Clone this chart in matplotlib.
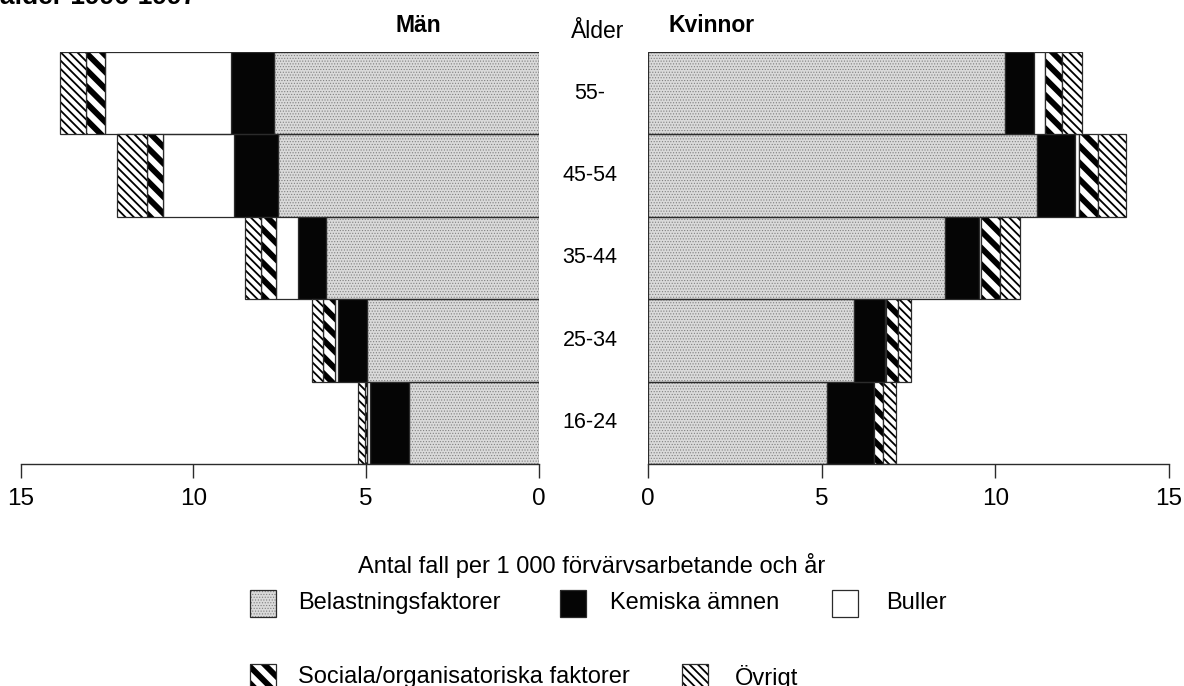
import matplotlib
matplotlib.use('Agg')
import matplotlib.pyplot as plt
import matplotlib.transforms as mtransforms
from matplotlib.patches import Rectangle

plt.rcParams['font.family'] = ['Liberation Sans', 'DejaVu Sans']

# ---------------- data ----------------
ages = ['16-24', '25-34', '35-44', '45-54', '55-']
categories = ['Belastningsfaktorer', 'Kemiska ämnen', 'Buller',
              'Sociala/organisatoriska faktorer', 'Övrigt']

men_belastning = [3.75, 4.99, 6.17, 7.55, 7.67]
men_kemiska = [1.14, 0.83, 0.80, 1.27, 1.23]
men_buller = [0.10, 0.09, 0.64, 2.05, 3.66]
men_sociala = [0.05, 0.35, 0.43, 0.48, 0.55]
men_ovrigt = [0.21, 0.32, 0.46, 0.87, 0.75]

women_belastning = [5.15, 5.94, 8.54, 11.20, 10.29]
women_kemiska = [1.36, 0.89, 0.98, 1.08, 0.81]
women_buller = [0.00, 0.03, 0.07, 0.14, 0.34]
women_sociala = [0.26, 0.34, 0.53, 0.55, 0.48]
women_ovrigt = [0.37, 0.38, 0.58, 0.78, 0.58]

x_ticks = [0, 5, 10, 15]
x_label = 'Antal fall per 1 000 förvärvsarbetande och år'

# ---------------- styles ----------------
styles = [
    dict(face='#dadada', hatch='......', hcolor='#808080', hlw=0.5),
    dict(face='#050505', hatch=None, hcolor='#050505', hlw=1.0),
    dict(face='white', hatch=None, hcolor='white', hlw=1.0),
    dict(face='white', hatch='\\\\', hcolor='black', hlw=4.2),
    dict(face='white', hatch='\\\\\\\\', hcolor='black', hlw=1.3),
]
EDGE = '#2b2b2b'

W, H = 1184, 686
fig = plt.figure(figsize=(W / 100, H / 100), dpi=100)


def set_hlw(patch, lw):
    if hasattr(patch, 'set_hatch_linewidth'):
        patch.set_hatch_linewidth(lw)


def draw_side(ax, series):
    left = [0.0] * len(ages)
    ypos = list(range(len(ages)))
    for vals, st in zip(series, styles):
        with plt.rc_context({'hatch.linewidth': st['hlw']}):
            bars = ax.barh(ypos, vals, left=left, height=1.0,
                           color=st['face'], edgecolor=st['hcolor'],
                           linewidth=0, hatch=st['hatch'])
        for p in bars:
            set_hlw(p, st['hlw'])
        ax.barh(ypos, vals, left=left, height=1.0, fill=False,
                edgecolor=EDGE, linewidth=0.9)
        left = [l + v for l, v in zip(left, vals)]


bottom = 1 - 464 / H
height = 412 / H
axL = fig.add_axes([20.5 / W, bottom, (539 - 20.5) / W, height])
axR = fig.add_axes([648 / W, bottom, (1169 - 648) / W, height])

draw_side(axL, [men_belastning, men_kemiska, men_buller, men_sociala, men_ovrigt])
draw_side(axR, [women_belastning, women_kemiska, women_buller, women_sociala, women_ovrigt])

axL.set_xlim(15, 0)
axR.set_xlim(0, 15)
for ax in (axL, axR):
    ax.set_ylim(-0.5, 4.5)
    for s in ('top', 'left', 'right'):
        ax.spines[s].set_visible(False)
    ax.spines['bottom'].set_color(EDGE)
    ax.spines['bottom'].set_linewidth(1.0)
    ax.set_xticks(x_ticks)
    ax.set_xticklabels([str(t) for t in x_ticks])
    ax.tick_params(axis='x', direction='out', length=10, width=1.0,
                   color=EDGE, pad=7, labelsize=17.5)
    ax.set_yticks([])
    ax.patch.set_alpha(0)

# age labels in the middle
trans = mtransforms.blended_transform_factory(fig.transFigure, axL.transData)
for i, a in enumerate(ages):
    fig.text(590 / W, i, a, transform=trans, ha='center', va='center', fontsize=15.5)

# headers
fig.text(418 / W, 1 - 26 / H, 'Män', ha='center', va='center', fontsize=16.5, fontweight='bold')
fig.text(598 / W, 1 - 31 / H, 'Ålder', ha='center', va='center', fontsize=16.5)
fig.text(668 / W, 1 - 26 / H, 'Kvinnor', ha='left', va='center', fontsize=16.5, fontweight='bold')

# cut-off title at top
fig.text(0.0, 1 - 4 / H, 'ålder 1996-1997', ha='left', va='baseline', fontsize=19, fontweight='bold')

# x label
fig.text(592 / W, 1 - 565 / H, x_label, ha='center', va='center', fontsize=17)

# legend (manual)
leg_pos = [(250, 603, 298), (560, 603, 610), (832, 603, 886),
           (250, 677, 298), (682, 677, 735)]
pw, ph = 26, 27
for (px, py, tx), st, lab in zip(leg_pos, styles, categories):
    with plt.rc_context({'hatch.linewidth': st['hlw']}):
        r = Rectangle((px / W, 1 - (py + ph / 2) / H), pw / W, ph / H,
                      transform=fig.transFigure, facecolor=st['face'],
                      edgecolor=st['hcolor'], linewidth=0, hatch=st['hatch'])
    set_hlw(r, st['hlw'])
    fig.add_artist(r)
    fig.add_artist(Rectangle((px / W, 1 - (py + ph / 2) / H), pw / W, ph / H,
                             transform=fig.transFigure, fill=False,
                             edgecolor=EDGE, linewidth=0.9))
    fig.text(tx / W, 1 - py / H, lab, ha='left', va='center', fontsize=17)

fig.savefig('out.png', dpi=100)
